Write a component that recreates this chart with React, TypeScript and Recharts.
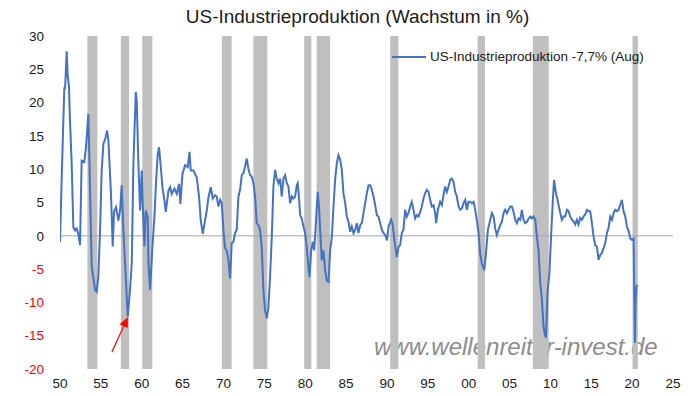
import React from 'react';
import {
  ComposedChart,
  Line,
  XAxis,
  YAxis,
  ReferenceArea,
  ReferenceLine,
  Legend,
} from 'recharts';

const seriesName = 'US-Industrieproduktion -7,7% (Aug)';
const title = 'US-Industrieproduktion (Wachstum in %)';
const watermark = 'www.wellenreiter-invest.de';

const years = [
  1950.0, 1950.25, 1950.53, 1950.61, 1950.69, 1950.82, 1950.94, 1951.1, 1951.2, 1951.43, 1951.63, 1951.84,
  1952.04, 1952.24, 1952.45, 1952.65, 1952.98, 1953.18, 1953.47, 1953.59, 1953.88, 1954.29, 1954.49, 1954.69,
  1954.9, 1955.1, 1955.31, 1955.59, 1955.76, 1955.92, 1956.24, 1956.45, 1956.61, 1956.86, 1957.14, 1957.35,
  1957.55, 1957.76, 1957.96, 1958.29, 1958.57, 1958.78, 1958.98, 1959.27, 1959.39, 1959.59, 1959.8, 1960.0,
  1960.12, 1960.33, 1960.49, 1960.73, 1960.82, 1961.02, 1961.31, 1961.55, 1961.76, 1961.96, 1962.12, 1962.37,
  1962.53, 1962.78, 1962.94, 1963.27, 1963.47, 1963.67, 1964.0, 1964.29, 1964.57, 1964.73, 1964.98, 1965.31,
  1965.63, 1965.84, 1966.0, 1966.33, 1966.73, 1967.02, 1967.22, 1967.47, 1967.67, 1967.96, 1968.16, 1968.45,
  1968.69, 1968.98, 1969.18, 1969.38, 1969.59, 1969.79, 1969.99, 1970.2, 1970.4, 1970.6, 1970.81, 1971.01,
  1971.22, 1971.42, 1971.62, 1971.83, 1972.03, 1972.24, 1972.44, 1972.64, 1972.85, 1973.05, 1973.26, 1973.46,
  1973.66, 1973.87, 1974.07, 1974.28, 1974.48, 1974.68, 1974.89, 1975.09, 1975.3, 1975.5, 1975.7, 1975.91,
  1976.11, 1976.32, 1976.52, 1976.73, 1976.93, 1977.13, 1977.34, 1977.54, 1977.75, 1977.95, 1978.15, 1978.36,
  1978.56, 1978.77, 1978.97, 1979.09, 1979.26, 1979.38, 1979.58, 1979.79, 1979.99, 1980.19, 1980.4, 1980.52,
  1980.73, 1980.93, 1981.09, 1981.21, 1981.42, 1981.54, 1981.71, 1981.83, 1982.03, 1982.24, 1982.44, 1982.64,
  1982.85, 1983.05, 1983.26, 1983.46, 1983.66, 1983.87, 1984.07, 1984.28, 1984.48, 1984.68, 1984.89, 1985.09,
  1985.3, 1985.5, 1985.7, 1985.91, 1986.11, 1986.32, 1986.52, 1986.73, 1986.93, 1987.13, 1987.34, 1987.54,
  1987.75, 1987.95, 1988.15, 1988.36, 1988.56, 1988.77, 1988.97, 1989.17, 1989.38, 1989.58, 1989.8, 1990.0,
  1990.2, 1990.51, 1990.68, 1990.92, 1991.21, 1991.41, 1991.61, 1991.82, 1992.02, 1992.23, 1992.43, 1992.63,
  1992.84, 1993.04, 1993.25, 1993.45, 1993.66, 1993.86, 1994.07, 1994.27, 1994.47, 1994.68, 1994.88, 1995.09,
  1995.29, 1995.49, 1995.7, 1995.9, 1996.02, 1996.23, 1996.51, 1996.72, 1996.92, 1997.13, 1997.33, 1997.53,
  1997.74, 1997.94, 1998.15, 1998.35, 1998.56, 1998.76, 1998.96, 1999.17, 1999.37, 1999.58, 1999.78, 1999.98,
  2000.19, 2000.39, 2000.6, 2000.8, 2001.0, 2001.21, 2001.41, 2001.62, 2001.9, 2002.11, 2002.35, 2002.64,
  2002.84, 2003.05, 2003.25, 2003.45, 2003.66, 2003.86, 2004.07, 2004.27, 2004.47, 2004.68, 2004.88, 2005.09,
  2005.29, 2005.49, 2005.7, 2005.9, 2006.11, 2006.31, 2006.51, 2006.72, 2006.92, 2007.13, 2007.33, 2007.54,
  2007.74, 2007.94, 2008.15, 2008.35, 2008.55, 2008.76, 2008.96, 2009.15, 2009.3, 2009.45, 2009.65, 2009.88,
  2010.1, 2010.3, 2010.45, 2010.67, 2010.87, 2011.12, 2011.4, 2011.61, 2011.81, 2012.02, 2012.22, 2012.42,
  2012.63, 2012.83, 2013.04, 2013.24, 2013.44, 2013.65, 2013.85, 2014.06, 2014.26, 2014.46, 2014.67, 2014.87,
  2015.08, 2015.28, 2015.48, 2015.69, 2015.89, 2016.1, 2016.3, 2016.5, 2016.71, 2016.91, 2017.12, 2017.32,
  2017.53, 2017.73, 2017.93, 2018.14, 2018.34, 2018.55, 2018.75, 2018.95, 2019.16, 2019.36, 2019.57, 2019.77,
  2019.97, 2020.18, 2020.34, 2020.42, 2020.55, 2020.63,
];

const growth = [
  -0.9, 10.5, 22.3, 22.0, 24.0, 27.7, 24.0, 22.4, 18.0, 10.8, 1.3, 0.8,
  1.1, 0.3, -1.4, 11.3, 11.1, 13.3, 18.3, 11.8, -4.6, -8.1, -8.4, -6.1,
  0.8, 9.8, 13.8, 14.8, 15.8, 14.3, 6.3, -1.6, 3.6, 4.3, 2.3, 3.8,
  7.6, 0.9, -4.1, -12.1, -8.1, -4.1, 10.8, 21.6, 20.3, 10.8, 3.8, 9.8,
  4.8, -1.6, 3.8, 2.8, -4.1, -8.1, -1.6, 2.8, 8.3, 12.3, 13.3, 9.8,
  7.3, 5.3, 3.6, 6.8, 7.3, 6.3, 7.1, 6.3, 7.8, 4.8, 9.3, 10.6,
  10.3, 12.6, 9.8, 9.8, 8.8, 5.8, 2.3, 0.3, 1.8, 3.8, 5.8, 7.3,
  5.6, 6.1, 5.9, 4.4, 5.4, 4.9, 0.9, -1.9, -2.2, -3.6, -6.4, -1.1,
  -0.9, 0.4, 0.9, 5.9, 6.9, 9.1, 9.4, 10.4, 11.6, 10.1, 9.1, 8.9,
  7.9, 5.9, 1.9, 1.6, 0.9, -1.7, -8.2, -11.2, -12.4, -10.7, -6.2, -0.2,
  7.4, 9.9, 8.6, 7.9, 8.6, 5.9, 8.6, 9.1, 7.9, 7.4, 4.9, 5.9,
  5.6, 5.9, 7.6, 7.9, 5.4, 3.1, 2.6, 1.4, 0.4, -1.7, -4.7, -6.2,
  -2.2, -0.9, -2.2, -0.2, 4.4, 6.6, 3.9, 0.9, -3.7, -2.2, -5.2, -6.7,
  -6.9, -2.2, -0.2, 4.4, 8.4, 10.9, 12.1, 11.4, 9.9, 6.4, 4.9, 2.9,
  2.1, 0.6, 1.4, 0.4, 0.9, 1.9, 0.4, 1.6, 1.9, 3.4, 4.9, 6.4,
  7.6, 7.6, 6.9, 5.9, 4.6, 3.1, 2.9, 1.9, 0.9, 0.4, 0.1, -0.7,
  1.4, 2.4, 1.9, -0.7, -3.2, -1.7, -1.4, 0.4, 0.9, 3.9, 2.9, 3.4,
  4.4, 5.1, 3.9, 2.6, 3.1, 2.9, 3.6, 4.4, 5.6, 6.4, 6.9, 6.6,
  5.4, 4.4, 4.6, 3.4, 1.9, 3.9, 5.1, 4.6, 6.1, 7.4, 6.6, 7.4,
  8.4, 8.6, 8.1, 6.6, 5.9, 4.4, 3.9, 4.1, 4.9, 5.4, 3.9, 5.1,
  5.1, 4.9, 5.1, 3.9, 2.4, 0.4, -2.7, -4.2, -5.2, -2.7, 0.9, 2.4,
  3.4, 2.9, 1.1, 0.1, 0.9, 1.6, 2.1, 3.4, 3.9, 3.4, 3.9, 4.4,
  4.4, 3.6, 2.4, 1.9, 2.6, 2.4, 3.9, 2.4, 1.9, 2.1, 2.6, 2.9,
  2.6, 2.9, 2.4, -0.2, -2.2, -7.1, -9.5, -13.5, -14.7, -15.3, -8.5, -5.6,
  0.4, 5.4, 8.4, 6.4, 5.4, 3.9, 2.4, 2.9, 2.9, 3.9, 3.7, 2.9,
  2.4, 2.2, 1.7, 2.4, 1.7, 2.7, 2.4, 2.9, 3.2, 3.9, 3.7, 3.7,
  1.9, -0.1, -1.4, -1.6, -3.6, -2.9, -2.6, -1.9, -1.1, 0.4, 1.2, 2.9,
  2.4, 3.4, 3.9, 3.7, 3.9, 4.7, 5.4, 3.7, 2.9, 1.4, 0.7, -0.4,
  -0.6, -0.4, -16.1, -9.6, -7.4, -7.7,
];

const recessionStart = [1953.35, 1957.45, 1960.07, 1969.8, 1973.66, 1979.88, 1981.4, 1990.4, 2001.1, 2007.85, 2020.05];
const recessionEnd = [1954.57, 1958.45, 1961.3, 1971.0, 1975.37, 1980.75, 1983.05, 1991.4, 2002.0, 2009.8, 2020.7];

const xTicks = [1950, 1955, 1960, 1965, 1970, 1975, 1980, 1985, 1990, 1995, 2000, 2005, 2010, 2015, 2020, 2025];
const yTicks = [-20, -15, -10, -5, 0, 5, 10, 15, 20, 25, 30];

// arrow annotation pointing at the 1958 trough (data coordinates)
const arrowTail = { x: 1956.35, y: -17.45 };
const arrowTip = { x: 1958.3, y: -12.2 };

const data = years.map((y, i) => ({ year: y, value: growth[i] }));

const FONT = '"Liberation Sans", Arial, Helvetica, sans-serif';
const LINE_COLOR = '#4472C4';

const YTick = (props: any) => {
  const { x, y, payload } = props;
  const v = payload.value;
  return (
    <text
      x={x}
      y={y}
      dy="0.355em"
      textAnchor="end"
      fill={v < 0 ? '#ff0000' : '#1a1a1a'}
      fontSize={13.5}
      fontFamily={FONT}
    >
      {v}
    </text>
  );
};

const ArrowShape = (props: any) => {
  const { x1, y1, x2, y2 } = props;
  if ([x1, y1, x2, y2].some((n) => typeof n !== 'number' || isNaN(n))) return <g />;
  const dx = x2 - x1;
  const dy = y2 - y1;
  const len = Math.sqrt(dx * dx + dy * dy) || 1;
  const ux = dx / len;
  const uy = dy / len;
  const headLen = 10;
  const headHalf = 4.5;
  const bx = x2 - ux * headLen;
  const by = y2 - uy * headLen;
  const px = -uy;
  const py = ux;
  return (
    <g>
      <line x1={x1} y1={y1} x2={bx} y2={by} stroke="#ff0000" strokeWidth={1.2} />
      <polygon
        points={`${x2},${y2} ${bx + px * headHalf},${by + py * headHalf} ${bx - px * headHalf},${by - py * headHalf}`}
        fill="#ff0000"
      />
    </g>
  );
};

const LegendContent = (props: any) => {
  const { payload } = props;
  if (!payload || !payload.length) return null;
  const item = payload[0];
  return (
    <div style={{ display: 'flex', alignItems: 'center', whiteSpace: 'nowrap' }}>
      <svg width={36} height={10} style={{ display: 'block' }}>
        <line x1={1} y1={5} x2={35} y2={5} stroke={item.color} strokeWidth={2} />
      </svg>
      <span
        style={{
          marginLeft: 3,
          fontFamily: FONT,
          fontSize: 13.5,
          color: '#1a1a1a',
          lineHeight: '16px',
        }}
      >
        {item.value}
      </span>
    </div>
  );
};

export default function App() {
  return (
    <div style={{ position: 'absolute', left: 0, top: 0, width: 692, height: 396, background: '#fff' }}>
      <div
        style={{
          position: 'absolute',
          left: 357.5,
          top: 7,
          transform: 'translateX(-50%)',
          fontFamily: FONT,
          fontSize: 19,
          lineHeight: '19px',
          color: '#1a1a1a',
          whiteSpace: 'nowrap',
        }}
      >
        {title}
      </div>
      <div
        style={{
          position: 'absolute',
          left: 374,
          top: 335,
          fontFamily: FONT,
          fontStyle: 'italic',
          fontSize: 24,
          lineHeight: '24px',
          color: '#8c8c8c',
          whiteSpace: 'nowrap',
        }}
      >
        {watermark}
      </div>
      <div style={{ position: 'absolute', left: 0, top: 0 }}>
        <ComposedChart
          width={692}
          height={396}
          data={data}
          margin={{ top: 36, right: 19, bottom: 0, left: 0 }}
        >
          <XAxis
            dataKey="year"
            type="number"
            domain={[1950, 2025]}
            ticks={xTicks}
            allowDataOverflow
            axisLine={false}
            tickLine={false}
            tickSize={0}
            tickMargin={9}
            height={27}
            interval={0}
            tickFormatter={(v: number) => String(v % 100).padStart(2, '0')}
            tick={{ fontSize: 13.5, fill: '#1a1a1a', fontFamily: FONT }}
          />
          <YAxis
            type="number"
            domain={[-20, 30]}
            ticks={yTicks}
            allowDataOverflow
            axisLine={false}
            tickLine={false}
            tickSize={0}
            tickMargin={16}
            width={60}
            interval={0}
            tick={<YTick />}
          />
          {recessionStart.map((s, i) => (
            <ReferenceArea
              key={`rec-${i}`}
              x1={s}
              x2={recessionEnd[i]}
              y1={-20}
              y2={30}
              fill="#bfbfbf"
              fillOpacity={1}
              stroke="none"
            />
          ))}
          <ReferenceLine y={0} stroke="#a6a6a6" strokeWidth={1} />
          <Legend
            layout="horizontal"
            verticalAlign="middle"
            align="center"
            content={<LegendContent />}
            wrapperStyle={{ top: 49, left: 391, width: 300, height: 16 }}
          />
          <Line
            type="linear"
            dataKey="value"
            name={seriesName}
            stroke={LINE_COLOR}
            strokeWidth={2}
            dot={false}
            activeDot={false}
            isAnimationActive={false}
          />
          <ReferenceLine
            segment={[arrowTail, arrowTip]}
            stroke="#ff0000"
            shape={<ArrowShape />}
            ifOverflow="visible"
          />
        </ComposedChart>
      </div>
    </div>
  );
}
